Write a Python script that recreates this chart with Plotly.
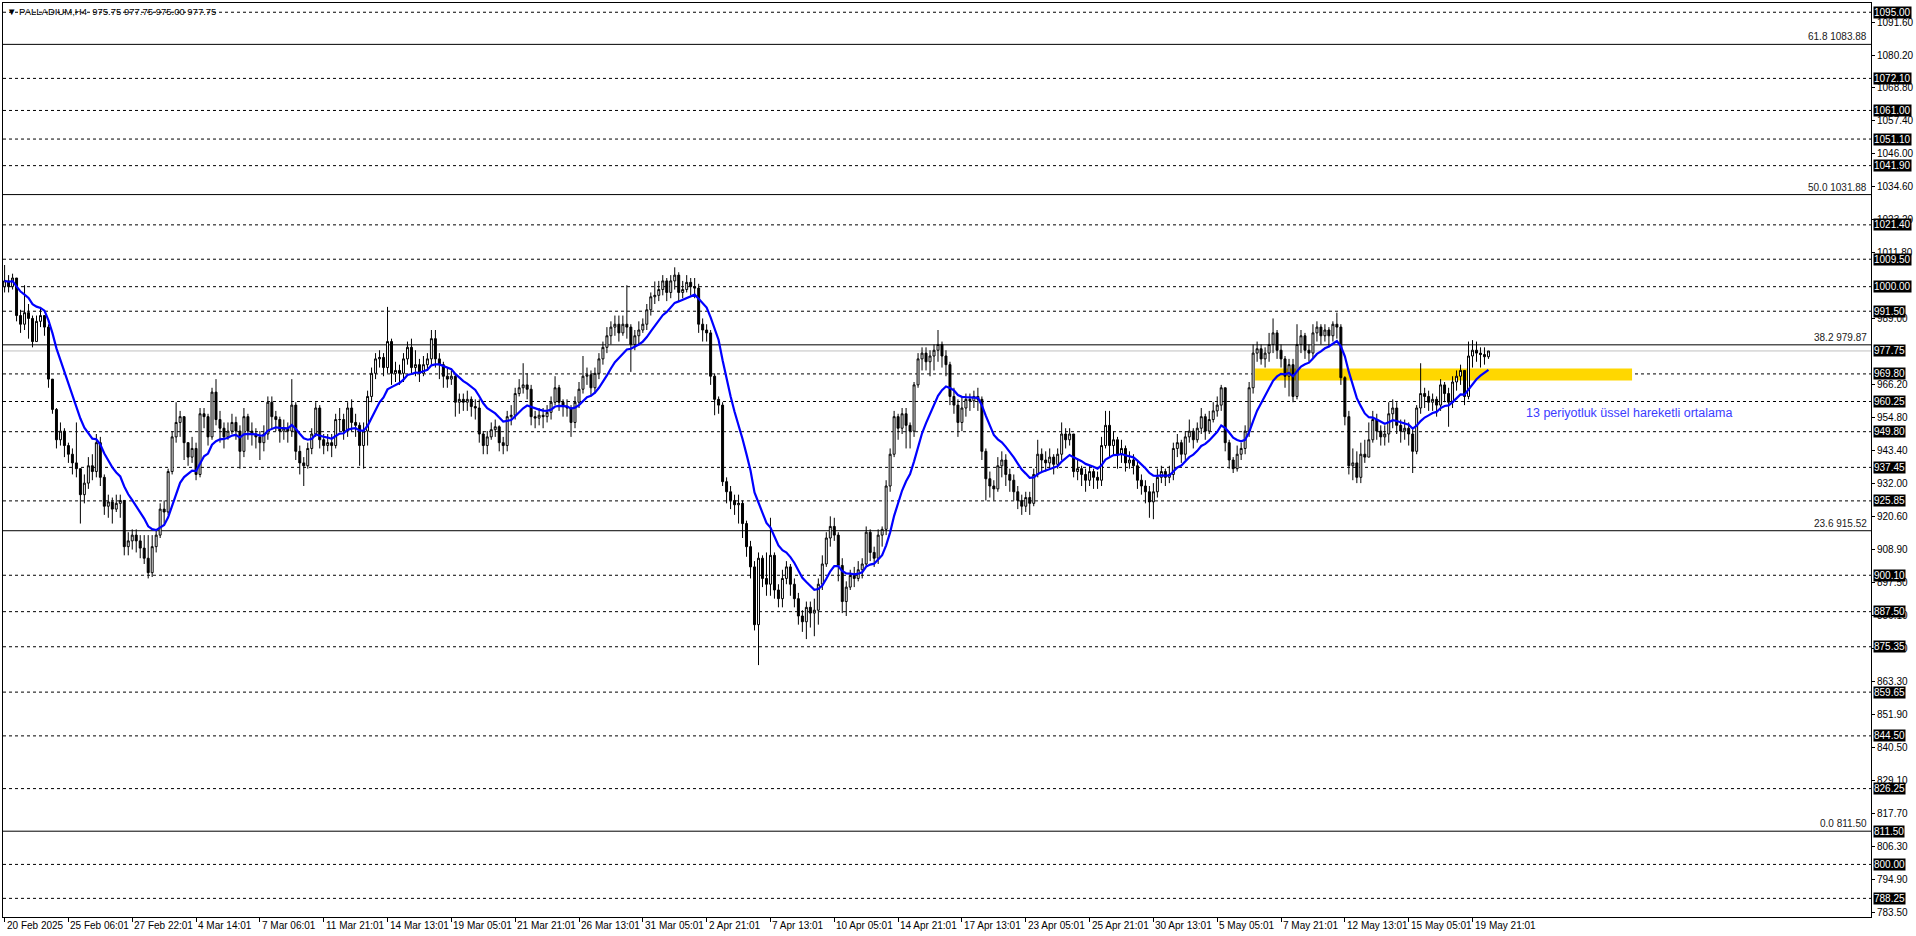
import plotly.graph_objects as go

# ---------------- data ----------------
first_open = 1000.0
closes = [
    1002, 1000, 1003, 990, 987, 991, 989, 981, 988, 990,
    986, 968, 957.5, 947, 950, 945, 942, 939, 937, 928,
    932, 938, 936, 946, 934, 924, 925.5, 923, 925, 926,
    910, 912, 914, 912, 909.5, 906, 901, 910, 914, 923,
    922, 936, 948, 953, 955, 946, 941, 944, 935, 956,
    955, 948, 963.5, 954, 951, 948, 950, 953, 950, 943,
    955, 950, 949, 948, 946, 949, 960, 955, 954, 950,
    951, 950, 959, 943, 939, 938, 944, 949, 958, 947,
    945, 946, 945, 954, 954, 950, 958, 953, 952, 945,
    950, 962, 970, 975, 975.5, 972, 981, 970, 971, 970,
    975, 979, 972, 973, 970, 973, 975, 982, 975, 973,
    969, 968, 969, 960, 961, 960, 961, 958.5, 958, 949,
    945, 948, 950.5, 951.5, 946, 945, 955, 955.5, 963, 965,
    966, 964.5, 955, 954.5, 955.5, 955, 956.5, 960, 965, 960,
    958.5, 958, 953, 960, 964.5, 969, 969.5, 965, 970, 975,
    979, 983, 986, 987, 984, 987, 986, 980, 983, 985,
    987, 992, 996.5, 997, 999, 1002, 998, 1002, 1004, 998,
    999, 1001.5, 1000, 999.5, 987, 985, 984, 969, 961, 959,
    932.5, 929, 926, 924.5, 925, 918, 910, 903, 883, 906,
    899, 897, 907, 895, 892, 899, 903, 897, 892, 886,
    884, 889, 887, 888, 897, 904, 913, 917, 914, 903.5,
    891, 896, 900, 899, 902, 904, 915, 908, 906, 914,
    916, 931, 942, 955, 951, 956, 952, 950, 966, 975,
    977, 974, 976, 978, 980, 976, 973, 962, 959, 953,
    958, 961, 960.5, 962, 961, 943, 933.5, 931, 930, 938,
    940, 935, 933, 929, 926, 924, 927, 925, 935, 942,
    940, 939, 941, 938.5, 942, 949, 947, 949, 936, 937,
    935, 933, 936, 934, 933, 945, 952, 945, 947, 942,
    944, 939, 940, 938, 933, 931, 929, 925.5, 929, 934,
    936, 934, 935, 944, 946, 942, 948, 950, 947, 951,
    955, 950, 954, 957, 959, 965, 946, 940, 937, 942,
    944, 950, 965, 977, 978.5, 975, 977, 980, 984, 978,
    975, 969, 973, 962, 980, 983, 978, 977, 984, 986,
    983, 985, 983, 987, 986, 968.5, 955, 938, 939, 934,
    942, 941, 947, 954, 950, 948, 949, 956, 958, 952,
    950, 951, 949, 943, 958, 963, 962, 960, 961, 959,
    966, 963, 960, 967, 969, 971, 962, 976, 978, 977,
    976.5, 975.75, 977.75,
]
highs = [
    1007.5, 1004, 1004.5, 1003, 992, 1000.5, 994, 990, 990, 993,
    989, 987, 968, 958, 953, 951, 946, 944, 953, 937,
    935, 941, 942, 949, 948, 935, 928, 927, 928, 928,
    926, 915, 916, 916, 914, 914, 914, 914, 916, 925,
    926, 937, 950, 960, 957, 955, 946, 948, 946, 958,
    958, 956, 965, 968, 957, 953, 953, 956, 955, 952,
    958, 956, 953, 951, 950, 952, 962, 962, 957, 955,
    954, 953, 968, 960, 945, 941, 946, 951, 960, 959,
    949, 949, 949, 956, 958, 956, 960, 961, 956, 953,
    953, 964, 972, 977, 978, 977, 993, 982, 974, 973,
    977, 981, 982, 978, 975, 976, 977, 985, 985, 977,
    974, 972, 971, 970, 963, 963, 964, 962, 961, 961,
    950, 950, 953, 954, 952, 948, 957, 959, 965, 968,
    973.5, 970, 966, 957, 958, 958, 959, 962, 969, 966,
    961, 961, 959, 962, 967, 976, 972, 971, 972, 977,
    981, 986, 988, 990, 990, 990, 1000.5, 987, 985, 988,
    989, 994, 998, 1001.8, 1002, 1004, 1003, 1004, 1006.7, 1005,
    1002, 1004, 1003, 1003, 1001, 989, 987, 985, 970, 962,
    960, 934, 931, 928, 928, 926, 919, 912, 905, 908,
    907, 908, 920, 908, 897, 902, 905, 904, 899, 894,
    888, 891, 891, 892, 899, 907, 915, 920.5, 920, 915,
    906, 898, 902, 903, 905, 906, 917, 916, 910, 916,
    917, 933, 944, 957, 956, 958, 958, 953, 967, 977,
    979, 979, 978, 980, 985, 981, 978, 974, 965, 961,
    962, 963, 963, 964, 965, 962, 944, 936, 933, 941,
    943, 942, 937, 935, 931, 928, 929, 929, 937, 947,
    944, 943, 944, 942, 944, 953, 951, 951, 948, 940,
    938, 937, 938, 937, 936, 948, 957, 957, 950, 948,
    947, 945, 943, 942, 940, 935, 933, 931, 932, 937,
    938, 937, 938, 946, 949, 947, 950, 954, 951, 953,
    958, 956, 957, 960, 962, 966, 965, 947, 941, 945,
    946, 952, 967, 980, 981, 980, 979, 984, 989, 985,
    980, 976, 975, 975, 987, 985, 984, 980, 987, 988,
    987, 987, 986, 988, 991, 987, 969, 957, 944, 943,
    946, 947, 953, 957, 956, 952, 952, 960, 961, 960,
    954, 954, 953, 951, 959, 973.5, 965, 964, 963, 962,
    968, 967, 965, 969, 971, 973, 971, 981, 981.5, 981,
    979, 979, 977.75,
]
lows = [
    998, 998, 999, 988, 984, 985, 982, 979, 984, 986,
    983, 965, 956, 944, 945, 941, 939, 935, 934, 918,
    925, 930, 933, 934, 931, 921, 920, 918, 922, 920,
    907, 907, 909, 908, 906, 904, 899, 899.5, 908, 913,
    918, 921, 935, 946, 948, 940, 938, 939, 933, 934,
    951, 945, 947, 952, 946, 944, 947, 949, 947, 937,
    941, 947, 945, 944, 940, 943, 947, 951, 950, 946,
    947, 946, 948, 940, 935, 931, 937, 942, 948, 944,
    942, 943, 941, 944, 950, 947, 948, 950, 948, 938,
    937, 945, 960, 968, 972, 969, 970, 966, 967, 966,
    967, 973, 970, 969, 967, 969, 971, 973, 972, 968,
    965, 965, 966, 955, 956, 957, 957, 955, 954, 946,
    942, 942, 947, 948, 943, 942, 943, 952, 954, 962,
    963, 961, 952, 951, 952, 951, 953, 954, 959, 957,
    955, 955, 948, 951, 958, 963, 966, 962, 963, 968,
    973, 977, 980, 983, 981, 983, 982, 970.5, 978, 980,
    984, 985, 990, 994, 995, 997, 995, 996, 999, 995,
    996, 998, 997, 996, 984, 981, 981, 966, 955.5, 956,
    931, 925, 923, 921, 918, 913, 906.5, 899, 881, 869,
    896, 893, 893, 892, 889, 889, 897, 893, 889, 883,
    880.5, 878, 882, 879, 883, 895, 903, 910, 912, 898,
    887, 886, 895, 896, 898, 899, 903, 905, 903, 904,
    910, 914, 929, 941, 947, 949, 944, 944, 948, 965,
    971, 971, 969, 971, 974, 972, 969, 959, 956, 948,
    950, 955, 957, 958, 957, 940, 926, 927, 926, 929,
    934, 931, 929, 926, 923, 921, 922, 921, 924, 934,
    936, 936, 937, 935, 937, 940, 944, 945, 934, 933,
    931, 929, 931, 930, 930, 931, 944, 941, 942, 937,
    939, 936, 937, 935, 930, 928, 925, 920, 919.5, 927,
    932, 931, 932, 933, 941, 939, 940, 946, 944, 946,
    949, 947, 949, 953, 955, 957, 943, 937, 935.5, 936,
    940, 942, 948, 963, 974, 973, 972, 974, 977, 975,
    972, 965, 962, 960, 961, 977, 975, 974, 975, 981,
    980, 981, 979, 981, 982, 966, 952, 935, 933, 932,
    932, 939, 941, 946, 947, 945, 945, 946, 951, 949,
    946, 947, 945, 935.5, 942, 956, 958, 957, 957, 955,
    957, 960, 951.5, 958, 964, 966, 959, 961, 972, 974,
    972, 973, 975,
]

date_labels = ["20 Feb 2025", "25 Feb 06:01", "27 Feb 22:01", "4 Mar 14:01", "7 Mar 06:01",
               "11 Mar 21:01", "14 Mar 13:01", "19 Mar 05:01", "21 Mar 21:01", "26 Mar 13:01",
               "31 Mar 05:01", "2 Apr 21:01", "7 Apr 13:01", "10 Apr 05:01", "14 Apr 21:01",
               "17 Apr 13:01", "23 Apr 05:01", "25 Apr 21:01", "30 Apr 13:01", "5 May 05:01",
               "7 May 21:01", "12 May 13:01", "15 May 05:01", "19 May 21:01"]
bars_per_label = 16

axis_ticks = [1091.60, 1080.20, 1068.80, 1057.40, 1046.00, 1034.60, 1023.20, 1011.80,
              989.00, 966.20, 954.80, 943.40, 932.00, 920.60, 908.90, 897.50, 886.10,
              874.70, 863.30, 851.90, 840.50, 829.10, 817.70, 806.30, 794.90, 783.50]
dashed_levels = [1095.00, 1072.10, 1061.00, 1051.10, 1041.90, 1021.40, 1009.50, 1000.00,
                 991.50, 969.80, 960.25, 949.80, 937.45, 925.85, 900.10, 887.50, 875.35,
                 859.65, 844.50, 826.25, 800.00, 788.25]
fib_ratios = ["61.8", "50.0", "38.2", "23.6", "0.0"]
fib_levels = [1083.88, 1031.88, 979.87, 915.52, 811.50]
bid_price = 977.75
box_levels = dashed_levels + [bid_price, 811.50]

zone_bars = [313.5, 408]
zone_prices = [967.5, 971.7]
ema_period = 13
note_text = "13 periyotluk üssel hareketli ortalama"
note_pos = (381, 956.3)
title_text = "PALLADIUM,H4  975.75 977.75 975.00 977.75"

# ---------------- derived ----------------
n = len(closes)
xs = list(range(n))
opens = [first_open] + closes[:-1]
hi = [max(h, o, c) for h, o, c in zip(highs, opens, closes)]
lo = [min(l, o, c) for l, o, c in zip(lows, opens, closes)]

alpha = 2.0 / (ema_period + 1)
ema = []
for c in closes:
    ema.append(c if not ema else ema[-1] + alpha * (c - ema[-1]))

FONT = "Liberation Sans, Arial, sans-serif"

fig = go.Figure()
fig.add_trace(go.Candlestick(
    x=xs, open=opens, high=hi, low=lo, close=closes,
    increasing=dict(line=dict(color="black", width=1), fillcolor="white"),
    decreasing=dict(line=dict(color="black", width=1), fillcolor="black"),
    whiskerwidth=0, hoverinfo="skip", showlegend=False,
))
fig.add_trace(go.Scatter(x=xs, y=ema, mode="lines", line=dict(color="#0000ff", width=2.2),
                         hoverinfo="skip", showlegend=False))

shapes = []
shapes.append(dict(type="rect", xref="x", yref="y", x0=zone_bars[0], x1=zone_bars[1],
                   y0=zone_prices[0], y1=zone_prices[1], fillcolor="#ffd700",
                   line=dict(width=0), layer="below"))
for lv in dashed_levels:
    shapes.append(dict(type="line", xref="paper", yref="y", x0=0, x1=1, y0=lv, y1=lv,
                       line=dict(color="black", width=1, dash="3px,3px"), layer="below"))
for lv in fib_levels:
    shapes.append(dict(type="line", xref="paper", yref="y", x0=0, x1=1, y0=lv, y1=lv,
                       line=dict(color="black", width=1), layer="below"))
shapes.append(dict(type="line", xref="paper", yref="y", x0=0, x1=1, y0=bid_price, y1=bid_price,
                   line=dict(color="#c0c0c0", width=1), layer="below"))

ann = []
for r, lv in zip(fib_ratios, fib_levels):
    ann.append(dict(xref="paper", yref="y", x=1, y=lv, xanchor="right", yanchor="bottom",
                    xshift=-2, yshift=0, text=f"{r} {lv:.2f}", showarrow=False,
                    font=dict(family=FONT, size=10, color="#202020")))
for lv in box_levels:
    ann.append(dict(xref="paper", yref="y", x=1, y=lv, xanchor="left", yanchor="middle",
                    xshift=2, text=f"{lv:.2f}", showarrow=False, bgcolor="black",
                    borderpad=0, font=dict(family=FONT, size=10, color="white")))
for k, lab in enumerate(date_labels):
    ann.append(dict(xref="x", yref="paper", x=k * bars_per_label, y=0, xanchor="left",
                    yanchor="top", xshift=0, yshift=-1, text=lab, showarrow=False,
                    font=dict(family=FONT, size=10, color="black")))
ann.append(dict(xref="x", yref="y", x=note_pos[0], y=note_pos[1], xanchor="left",
                yanchor="middle", text=note_text, showarrow=False,
                font=dict(family="Liberation Sans, Arial, sans-serif", size=12.5, color="#3c3cff")))
ann.append(dict(xref="paper", yref="paper", x=0, y=1, xanchor="left", yanchor="top",
                xshift=2, yshift=-1, text="\u25bc " + title_text, showarrow=False,
                font=dict(family=FONT, size=9.5, color="black")))

fig.update_layout(
    width=1916, height=936,
    margin=dict(l=2, r=41, t=2, b=19),
    paper_bgcolor="white", plot_bgcolor="white",
    shapes=shapes, annotations=ann, showlegend=False,
    xaxis=dict(range=[-0.4, 467.9], showgrid=False, zeroline=False, rangeslider=dict(visible=False),
               showline=True, linecolor="black", linewidth=1, mirror=True,
               tickmode="array", tickvals=[k * bars_per_label for k in range(len(date_labels))],
               ticks="outside", ticklen=4, tickcolor="black", showticklabels=False),
    yaxis=dict(range=[781.8, 1098.2], side="right", showgrid=False, zeroline=False,
               showline=True, linecolor="black", linewidth=1, mirror=True,
               tickmode="array", tickvals=axis_ticks, ticktext=[f"{v:.2f}" for v in axis_ticks],
               ticks="outside", ticklen=3, tickcolor="black",
               tickfont=dict(family=FONT, size=10, color="black")),
)

fig.write_html("out.html", config={"displayModeBar": False, "staticPlot": True},
               post_script="document.body.style.margin='0px';document.body.style.overflow='hidden';")
